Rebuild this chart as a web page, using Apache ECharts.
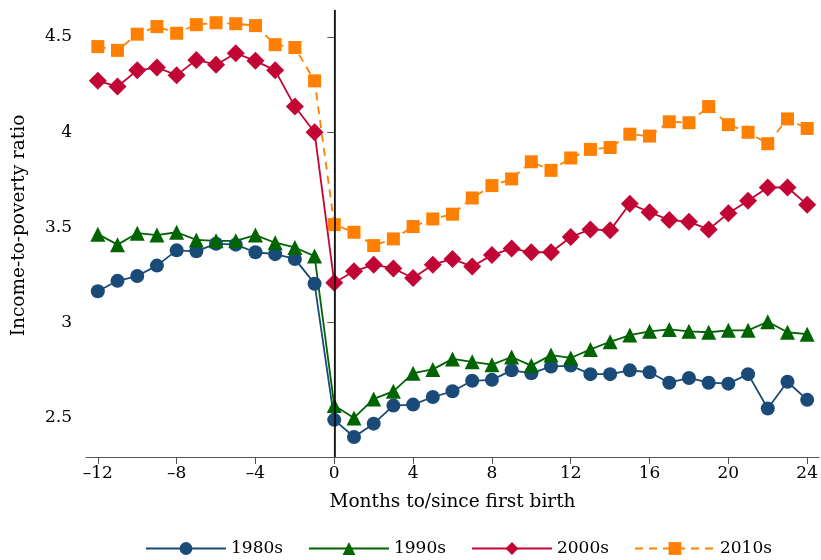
<!DOCTYPE html>
<html>
<head>
<meta charset="utf-8">
<script src="https://cdn.jsdelivr.net/npm/echarts@6/dist/echarts.min.js"></script>
<style>
  html, body { margin: 0; padding: 0; background: #fff; }
  #chart { width: 821px; height: 560px; }
</style>
</head>
<body>
<div id="chart"></div>
<script>
// months to/since first birth
const months = [];
for (let m = -12; m <= 24; m++) months.push(m);

const xTicks = [-12, -8, -4, 0, 4, 8, 12, 16, 20, 24];
const yTicks = [2.5, 3, 3.5, 4, 4.5];

// income-to-poverty ratio by decade
const s1980 = [3.165, 3.22, 3.245, 3.30, 3.38, 3.375, 3.415, 3.41, 3.37, 3.36, 3.335, 3.205,
  2.49, 2.40, 2.47, 2.565, 2.57, 2.61, 2.64, 2.695, 2.70, 2.75, 2.735, 2.77, 2.775,
  2.73, 2.73, 2.75, 2.74, 2.685, 2.71, 2.685, 2.68, 2.73, 2.55, 2.69, 2.595];
const s1990 = [3.465, 3.41, 3.47, 3.46, 3.475, 3.435, 3.43, 3.43, 3.46, 3.42, 3.395, 3.35,
  2.565, 2.50, 2.60, 2.64, 2.735, 2.755, 2.81, 2.795, 2.78, 2.82, 2.775, 2.83, 2.815,
  2.86, 2.90, 2.935, 2.955, 2.965, 2.955, 2.95, 2.96, 2.96, 3.005, 2.95, 2.94];
const s2000 = [4.27, 4.24, 4.325, 4.34, 4.30, 4.38, 4.355, 4.415, 4.375, 4.325, 4.135, 4.00,
  3.21, 3.27, 3.305, 3.285, 3.235, 3.305, 3.335, 3.295, 3.355, 3.39, 3.37, 3.37, 3.45,
  3.49, 3.485, 3.625, 3.58, 3.54, 3.53, 3.49, 3.575, 3.64, 3.71, 3.71, 3.62];
const s2010 = [4.45, 4.43, 4.515, 4.555, 4.52, 4.565, 4.575, 4.57, 4.56, 4.46, 4.445, 4.27,
  3.515, 3.475, 3.405, 3.44, 3.505, 3.545, 3.57, 3.655, 3.72, 3.755, 3.845, 3.80, 3.865,
  3.91, 3.92, 3.99, 3.98, 4.055, 4.05, 4.135, 4.04, 4.00, 3.94, 4.07, 4.02];

const font = 'DejaVu Serif';
const chart = echarts.init(document.getElementById('chart'));

function pairs(vals) {
  return months.map((m, i) => [m, vals[i]]);
}

function line(name, vals, color, symbol, size, dashed) {
  return {
    name: name,
    type: 'line',
    data: pairs(vals),
    symbol: symbol,
    symbolSize: size,
    showAllSymbol: true,
    itemStyle: { color: color },
    lineStyle: { color: color, width: 1.8, type: dashed ? [8, 6] : 'solid' },
    emphasis: { disabled: true },
    z: 3
  };
}

const series = [
  line('1980s', s1980, '#1a4a78', 'circle', 14, false),
  line('1990s', s1990, '#006400', 'triangle', 15, false),
  line('2000s', s2000, '#c10534', 'diamond', 18, false),
  line('2010s', s2010, '#ff8000', 'rect', 13, true)
];
// vertical reference line at the birth month
series[0].markLine = {
  silent: true,
  symbol: 'none',
  label: { show: false },
  lineStyle: { color: '#000', width: 1.5, type: 'solid' },
  data: [{ xAxis: 0 }]
};

const option = {
  animation: false,
  backgroundColor: '#fff',
  textStyle: { fontFamily: font },
  grid: { left: 86, right: 1, top: 10, bottom: 103 },
  legend: {
    top: 540,
    left: 145,
    padding: 0,
    itemWidth: 80,
    itemHeight: 16,
    itemGap: 25,
    textStyle: { fontFamily: font, fontSize: 17, color: '#000' },
    data: ['1980s', '1990s', '2000s', '2010s']
  },
  xAxis: {
    type: 'value',
    min: -12.6,
    max: 24.6,
    name: 'Months to/since first birth',
    nameLocation: 'middle',
    nameGap: 36,
    nameTextStyle: { fontFamily: font, fontSize: 18.5, color: '#000' },
    axisLine: { show: true, lineStyle: { color: '#555', width: 1.2 } },
    axisTick: { show: true, length: 7, customValues: xTicks, lineStyle: { color: '#555' } },
    axisLabel: {
      customValues: xTicks,
      fontFamily: font, fontSize: 17, color: '#000', margin: 8,
      formatter: v => String(v).replace('-', '\u2013')
    },
    splitLine: { show: false }
  },
  yAxis: {
    type: 'value',
    min: 2.295,
    max: 4.642,
    name: 'Income-to-poverty ratio',
    nameLocation: 'middle',
    nameGap: 57,
    nameTextStyle: { fontFamily: font, fontSize: 18.5, color: '#000', padding: [0, 0, 0, 16] },
    axisLine: { show: true, lineStyle: { color: '#555', width: 1.2 } },
    axisTick: { show: true, length: 7, customValues: yTicks, lineStyle: { color: '#555' } },
    axisLabel: {
      customValues: yTicks,
      fontFamily: font, fontSize: 17, color: '#000', margin: 14,
      formatter: v => String(v)
    },
    splitLine: { show: false }
  },
  series: series
};

chart.setOption(option);
</script>
</body>
</html>
